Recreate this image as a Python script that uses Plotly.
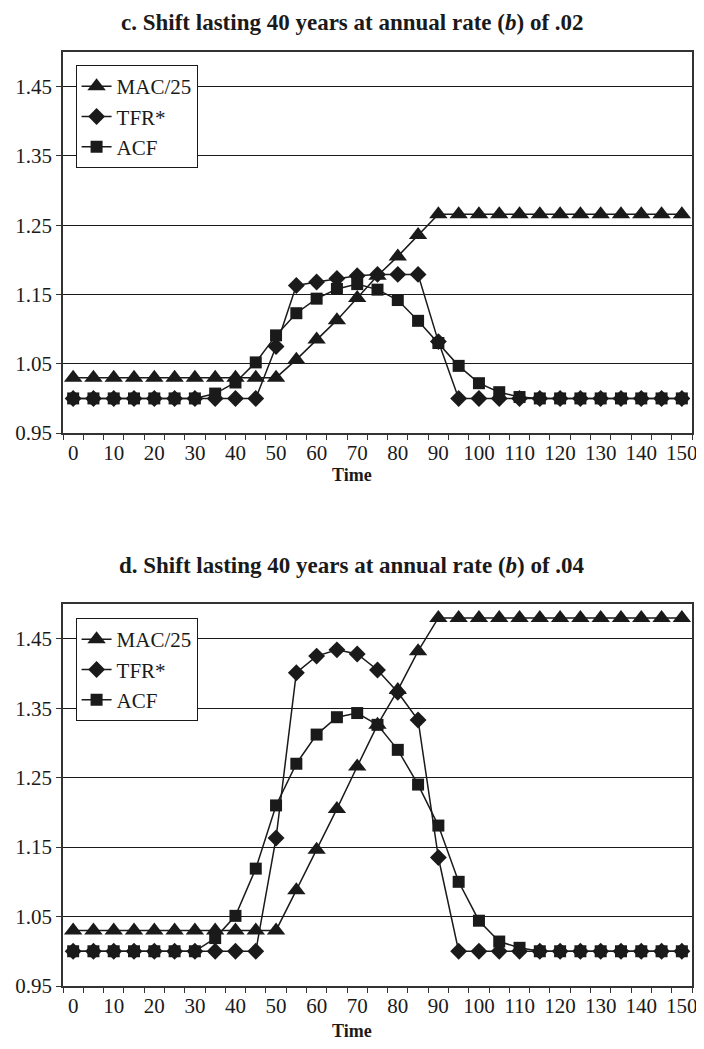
import plotly.graph_objects as go

time = [0, 5, 10, 15, 20, 25, 30, 35, 40, 45, 50, 55, 60, 65, 70, 75, 80, 85, 90, 95,
        100, 105, 110, 115, 120, 125, 130, 135, 140, 145, 150]

c_mac = [1.03, 1.03, 1.03, 1.03, 1.03, 1.03, 1.03, 1.03, 1.03, 1.03, 1.03,
         1.056, 1.085, 1.113, 1.145, 1.177, 1.205, 1.236,
         1.266, 1.266, 1.266, 1.266, 1.266, 1.266, 1.266, 1.266, 1.266, 1.266, 1.266, 1.266, 1.266]
c_tfr = [1.0, 1.0, 1.0, 1.0, 1.0, 1.0, 1.0, 1.0, 1.0, 1.0,
         1.075, 1.163, 1.168, 1.173, 1.177, 1.179, 1.179, 1.179, 1.082,
         1.0, 1.0, 1.0, 1.0, 1.0, 1.0, 1.0, 1.0, 1.0, 1.0, 1.0, 1.0]
c_acf = [1.0, 1.0, 1.0, 1.0, 1.0, 1.0, 1.0,
         1.007, 1.023, 1.052, 1.091, 1.123, 1.144, 1.158, 1.165, 1.157, 1.142, 1.112,
         1.080, 1.047, 1.022, 1.009, 1.002,
         1.0, 1.0, 1.0, 1.0, 1.0, 1.0, 1.0, 1.0]

d_mac = [1.03, 1.03, 1.03, 1.03, 1.03, 1.03, 1.03, 1.03, 1.03, 1.03, 1.03,
         1.088, 1.146, 1.205, 1.266, 1.326, 1.376, 1.432,
         1.48, 1.48, 1.48, 1.48, 1.48, 1.48, 1.48, 1.48, 1.48, 1.48, 1.48, 1.48, 1.48]
d_tfr = [1.0, 1.0, 1.0, 1.0, 1.0, 1.0, 1.0, 1.0, 1.0, 1.0,
         1.163, 1.401, 1.425, 1.434, 1.428, 1.405, 1.373, 1.333, 1.135,
         1.0, 1.0, 1.0, 1.0, 1.0, 1.0, 1.0, 1.0, 1.0, 1.0, 1.0, 1.0]
d_acf = [1.0, 1.0, 1.0, 1.0, 1.0, 1.0, 1.0,
         1.019, 1.051, 1.119, 1.210, 1.270, 1.312, 1.337, 1.343, 1.326, 1.290, 1.240,
         1.181, 1.100, 1.044, 1.014, 1.005,
         1.0, 1.0, 1.0, 1.0, 1.0, 1.0, 1.0, 1.0]

series_names = ["MAC/25", "TFR*", "ACF"]
symbols = ["triangle-up", "diamond", "square"]
sizes = [16, 13, 12]
x_labels = [0, 10, 20, 30, 40, 50, 60, 70, 80, 90, 100, 110, 120, 130, 140, 150]
y_ticks = [0.95, 1.05, 1.15, 1.25, 1.35, 1.45]

titles = ["<b>c. Shift lasting 40 years at annual rate (<i>b</i>) of .02</b>",
          "<b>d. Shift lasting 40 years at annual rate (<i>b</i>) of .04</b>"]

FONT = "Liberation Serif"
INK = "#1a1a1a"

fig = go.Figure()

panels = [(c_mac, c_tfr, c_acf), (d_mac, d_tfr, d_acf)]
for p, data in enumerate(panels):
    xa = "x" if p == 0 else "x2"
    ya = "y" if p == 0 else "y2"
    lg = "legend" if p == 0 else "legend2"
    for name, sym, sz, vals in zip(series_names, symbols, sizes, data):
        fig.add_trace(go.Scatter(
            x=time, y=vals, name=name, mode="lines+markers",
            line=dict(color=INK, width=1.5),
            marker=dict(symbol=sym, size=sz, color=INK, line=dict(width=0)),
            xaxis=xa, yaxis=ya, legend=lg, showlegend=True,
        ))

xcommon = dict(
    range=[-2.5, 152.5], tickmode="array", tickvals=x_labels,
    ticktext=[str(v) for v in x_labels], ticks="",
    showgrid=False, zeroline=False, showline=True, linecolor="#333333",
    linewidth=1.5, mirror=True,
    tickfont=dict(family=FONT, size=21, color=INK),
    minor=dict(ticks="outside", tick0=2.5, dtick=5, ticklen=5,
               tickcolor="#333333", tickwidth=1, showgrid=False),
)
ycommon = dict(
    range=[0.95, 1.5], tickmode="array", tickvals=y_ticks,
    ticktext=["%.2f" % v for v in y_ticks],
    ticks="outside", ticklen=5, tickcolor="#333333",
    showgrid=True, gridcolor=INK, gridwidth=1, zeroline=False,
    showline=True, linecolor="#333333", linewidth=1.5, mirror=True,
    tickfont=dict(family=FONT, size=21, color=INK),
)

legcommon = dict(
    xanchor="left", yanchor="top", bgcolor="white",
    bordercolor=INK, borderwidth=1,
    font=dict(family=FONT, size=21, color=INK),
    tracegroupgap=0, itemsizing="trace",
)

fig.update_layout(
    width=696, height=1033,
    margin=dict(l=47, r=7, t=44, b=55),
    paper_bgcolor="white", plot_bgcolor="white",
    xaxis=dict(domain=[0, 1], anchor="y", **xcommon),
    yaxis=dict(domain=[0.592, 1], anchor="x", **ycommon),
    xaxis2=dict(domain=[0, 1], anchor="y2", **xcommon),
    yaxis2=dict(domain=[0, 0.409], anchor="x2", **ycommon),
    legend=dict(x=0.02, y=0.986, **legcommon),
    legend2=dict(x=0.02, y=0.394, **legcommon),
    showlegend=True,
)

annots = [
    dict(text=titles[0], x=0.46, y=1.032, xref="paper", yref="paper",
         showarrow=False, font=dict(family=FONT, size=23, color=INK),
         xanchor="center", yanchor="middle"),
    dict(text=titles[1], x=0.46, y=0.4507, xref="paper", yref="paper",
         showarrow=False, font=dict(family=FONT, size=23, color=INK),
         xanchor="center", yanchor="middle"),
    dict(text="<b>Time</b>", x=0.46, y=0.547, xref="paper", yref="paper",
         showarrow=False, font=dict(family=FONT, size=18, color=INK),
         xanchor="center", yanchor="middle"),
    dict(text="<b>Time</b>", x=0.46, y=-0.048, xref="paper", yref="paper",
         showarrow=False, font=dict(family=FONT, size=18, color=INK),
         xanchor="center", yanchor="middle"),
]
fig.update_layout(annotations=annots)

fig.write_html("out.html")
